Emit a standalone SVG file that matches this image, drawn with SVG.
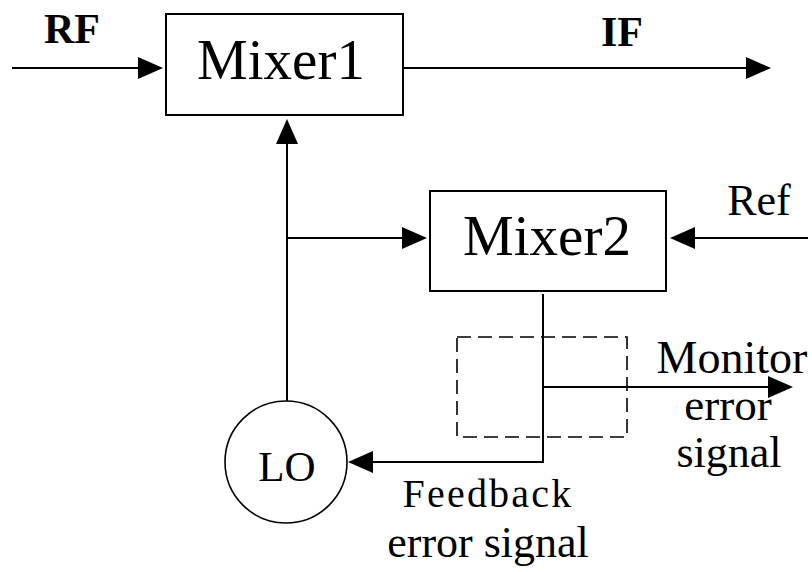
<svg xmlns="http://www.w3.org/2000/svg" width="812" height="572" viewBox="0 0 812 572">
<style>
  .box { fill: #ffffff; stroke: #000000; stroke-width: 2; }
  .circ { fill: #ffffff; stroke: #000000; stroke-width: 1.6; }
  .dash { fill: none; stroke: #000000; stroke-width: 1.6; stroke-dasharray: 14 7; }
  .wire { fill: none; stroke: #000000; stroke-width: 2; marker-end: url(#arrow); }
</style>
<defs>
  <marker id="arrow" markerUnits="userSpaceOnUse" markerWidth="26" markerHeight="24" refX="13" refY="11" orient="auto" overflow="visible">
    <path d="M0,0 L25,11 L0,22 Z" fill="#000000"/>
  </marker>
</defs>
<rect width="812" height="572" fill="#ffffff"/>
<g id="connectors">
  <path class="wire" d="M12,68 H151"/>
  <path class="wire" d="M403,68 H759"/>
  <path class="wire" d="M287,401 V131"/>
  <path class="wire" d="M287,238 H415"/>
  <path class="wire" d="M808,238 H682"/>
  <path class="wire" d="M543,294 V462 H360"/>
  <path class="wire" d="M543,387 H781"/>
</g>
<g id="mixer1">
  <rect class="box" x="166" y="14" width="237" height="101"/>
  <text x="281" y="79" font-family="Liberation Serif" text-anchor="middle" font-size="57">Mixer1</text>
</g>
<g id="mixer2">
  <rect class="box" x="430" y="191" width="236" height="100"/>
  <text x="547" y="255" font-family="Liberation Serif" text-anchor="middle" font-size="57">Mixer2</text>
</g>
<g id="lo">
  <circle class="circ" cx="286" cy="462" r="61"/>
  <text x="287" y="481" font-family="Liberation Serif" text-anchor="middle" font-size="43">LO</text>
</g>
<g id="monitor-tap">
  <rect class="dash" x="457" y="337" width="170" height="100"/>
</g>
<g id="labels">
  <text x="72" y="43" font-family="Liberation Serif" text-anchor="middle" font-size="42" font-weight="bold">RF</text>
  <text x="622" y="46" font-family="Liberation Serif" text-anchor="middle" font-size="42" font-weight="bold">IF</text>
  <text x="759" y="215" font-family="Liberation Serif" text-anchor="middle" font-size="44">Ref</text>
  <text x="732" y="373" font-family="Liberation Serif" text-anchor="middle" font-size="46">Monitor</text>
  <text x="728" y="420" font-family="Liberation Serif" text-anchor="middle" font-size="45">error</text>
  <text x="729" y="467" font-family="Liberation Serif" text-anchor="middle" font-size="44">signal</text>
  <text x="488" y="507" font-family="Liberation Serif" text-anchor="middle" font-size="40" letter-spacing="2.2">Feedback</text>
  <text x="488" y="557" font-family="Liberation Serif" text-anchor="middle" font-size="44">error signal</text>
</g>
</svg>
